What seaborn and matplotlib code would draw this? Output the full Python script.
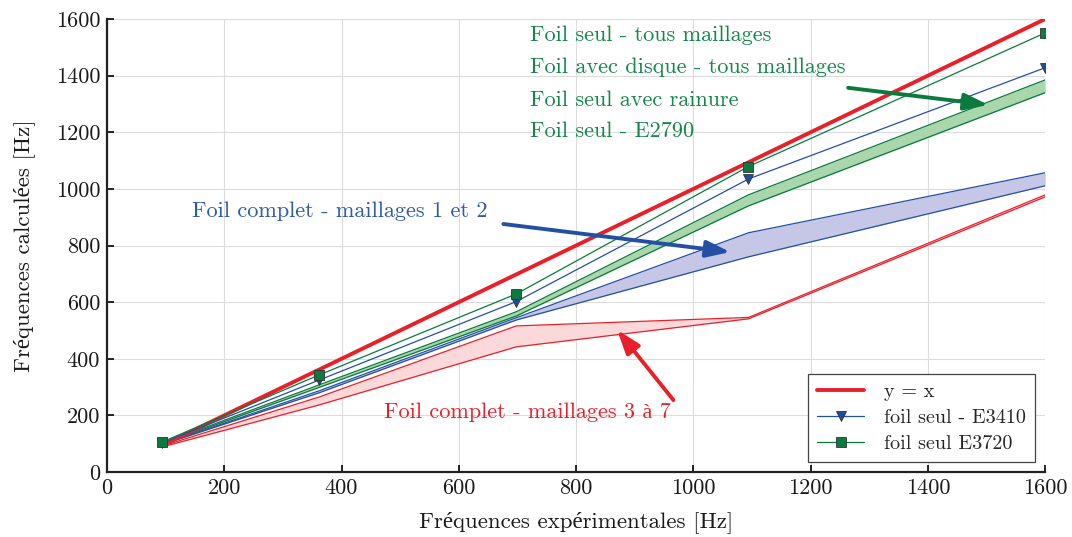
import matplotlib
matplotlib.use("Agg")
import matplotlib.pyplot as plt
import seaborn as sns
import numpy as np
import pandas as pd

# ---- data ----
x_exp = [93, 362, 698, 1094, 1600]
y_ident = [93, 362, 698, 1094, 1600]
e3410 = [102, 325, 602, 1035, 1428]          # foil seul - E3410 (triangles)
e3720 = [105, 343, 629, 1079, 1551]          # foil seul E3720 (squares)
green_up = [100, 308, 566, 979, 1385]        # foil seul / disque / rainure band
green_lo = [98, 299, 551, 940, 1340]
blue_up = [97, 287, 545, 845, 1057]          # foil complet maillages 1 et 2
blue_lo = [96, 280, 537, 760, 1011]
red_up = [91, 265, 516, 546, 979]            # foil complet maillages 3 a 7
red_lo = [88, 237, 442, 541, 972]

xticks = [0, 200, 400, 600, 800, 1000, 1200, 1400, 1600]
yticks = [0, 200, 400, 600, 800, 1000, 1200, 1400, 1600]

RED = "#e8202a"
GREEN = "#0b7a3e"
BLUE = "#2450a4"
GREEN_TXT = "#15874a"
BLUE_TXT = "#2e5aa8"

sns.set_theme(style="whitegrid")
plt.rcParams["font.family"] = ["cmr10", "Liberation Serif"]
plt.rcParams["axes.formatter.use_mathtext"] = True
plt.rcParams["mathtext.fontset"] = "cm"

fig = plt.figure(figsize=(10.72, 5.37), dpi=100)
ax = fig.add_axes([0.0998, 0.121, 0.8752, 0.8436])

df = pd.DataFrame({"x": x_exp, "ident": y_ident, "e3410": e3410, "e3720": e3720,
                   "gu": green_up, "gl": green_lo, "bu": blue_up, "bl": blue_lo,
                   "ru": red_up, "rl": red_lo})

# bands
ax.fill_between(df["x"], df["rl"], df["ru"], color="#fbd9da", lw=0, zorder=1)
ax.fill_between(df["x"], df["bl"], df["bu"], color="#c6c6e6", lw=0, zorder=1)
ax.fill_between(df["x"], df["gl"], df["gu"], color="#a9d6ab", lw=0, zorder=1)

for col, c in [("rl", RED), ("ru", RED), ("bl", BLUE), ("bu", BLUE), ("gl", GREEN), ("gu", GREEN)]:
    sns.lineplot(data=df, x="x", y=col, ax=ax, color=c, lw=0.9, zorder=2, legend=False)

sns.lineplot(data=df, x="x", y="ident", ax=ax, color=RED, lw=2.8, zorder=3, label="y = x")
sns.lineplot(data=df, x="x", y="e3410", ax=ax, color=BLUE, lw=0.9, marker="v", markersize=7,
             markerfacecolor="#1f4e9c", markeredgecolor="#333333", markeredgewidth=0.6,
             zorder=4, label="foil seul - E3410")
sns.lineplot(data=df, x="x", y="e3720", ax=ax, color=GREEN, lw=0.9, marker="s", markersize=7,
             markerfacecolor="#0b7a3e", markeredgecolor="#333333", markeredgewidth=0.6,
             zorder=5, label="foil seul E3720")

# annotations
fs = 16
ax.text(722, 1541, "Foil seul - tous maillages", color=GREEN_TXT, fontsize=fs, va="center")
ax.text(722, 1428, "Foil avec disque - tous maillages", color=GREEN_TXT, fontsize=fs, va="center")
ax.text(722, 1314, "Foil seul avec rainure", color=GREEN_TXT, fontsize=fs, va="center")
ax.text(722, 1205, "Foil seul - E2790", color=GREEN_TXT, fontsize=fs, va="center")
ax.text(145, 922, "Foil complet - maillages 1 et 2", color=BLUE_TXT, fontsize=fs, va="center")
ax.text(473, 212, "Foil complet - maillages 3 à 7", color=RED, fontsize=fs, va="center")

arrowkw = dict(arrowstyle="-|>,head_length=1.2,head_width=0.42", lw=2.8, shrinkA=0, shrinkB=0)
ax.annotate("", xy=(1503, 1297), xytext=(1264, 1357),
            arrowprops=dict(color=GREEN, **arrowkw), zorder=6)
ax.annotate("", xy=(1063, 777), xytext=(676, 876),
            arrowprops=dict(color=BLUE, **arrowkw), zorder=6)
ax.annotate("", xy=(870, 502), xytext=(966, 254),
            arrowprops=dict(color=RED, **arrowkw), zorder=6)

ax.set_xlim(0, 1600)
ax.set_ylim(0, 1600)
ax.set_xticks(xticks)
ax.set_yticks(yticks)
ax.set_xticklabels([str(t) for t in xticks])
ax.set_yticklabels([str(t) for t in yticks])
ax.tick_params(axis="both", which="major", labelsize=16, direction="in", length=5,
               width=1.2, color="black", labelcolor="#1a1a1a", bottom=True, left=True, pad=5)
ax.grid(True, color="#dcdcdc", lw=0.8)
ax.set_facecolor("white")
for s in ["top", "right"]:
    ax.spines[s].set_visible(False)
for s in ["left", "bottom"]:
    ax.spines[s].set_color("#222222")
    ax.spines[s].set_linewidth(1.6)

ax.set_xlabel("Fréquences expérimentales [Hz]", fontsize=16.5, color="#1a1a1a", labelpad=9)
ax.set_ylabel("Fréquences calculées [Hz]", fontsize=16.5, color="#1a1a1a", labelpad=15)

leg = ax.legend(loc="lower right", bbox_to_anchor=(0.989, 0.022), borderaxespad=0,
                fontsize=14.5, frameon=True, fancybox=False, edgecolor="#444444", framealpha=1,
                handlelength=2.3, borderpad=0.45, labelspacing=0.4, handletextpad=1.0)
leg.get_frame().set_linewidth(0.9)

fig.savefig("out.png", dpi=100)
